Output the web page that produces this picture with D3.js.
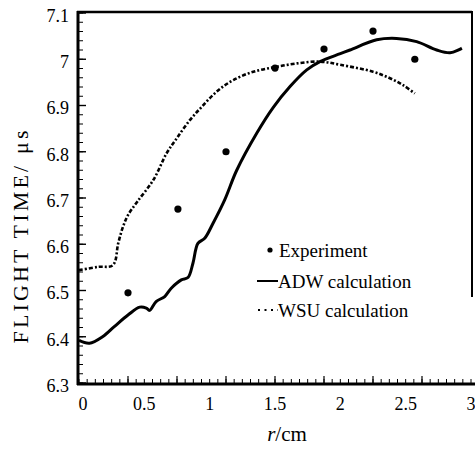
<!DOCTYPE html>
<html><head><meta charset="utf-8">
<script src="https://cdn.jsdelivr.net/npm/d3@7"></script>
<style>body{margin:0;background:#fff}svg{display:block}text{font-family:"Liberation Serif","Times New Roman",serif;fill:#000}</style>
</head><body>
<svg id="c" width="475" height="453"></svg>
<script>
const xTicks = [0, 0.5, 1, 1.5, 2, 2.5, 3];
const yTicks = [6.3, 6.4, 6.5, 6.6, 6.7, 6.8, 6.9, 7, 7.1];
const xMinor = d3.range(0, 3.001, 0.0625);
const xMajorMarks = [0.375, 0.75, 1.125, 1.5, 1.875, 2.25, 2.625];
const yMinor = d3.range(6.3, 7.101, 0.02);

const experiment = [[0.375,6.495],[0.757,6.676],[1.125,6.80],[1.5,6.981],[1.875,7.022],[2.25,7.061],[2.57,7.0]];
const adw = [[0,6.392],[0.08,6.386],[0.18,6.40],[0.27,6.422],[0.375,6.447],[0.465,6.464],[0.515,6.462],[0.54,6.457],[0.59,6.476],[0.656,6.487],[0.706,6.505],[0.783,6.523],[0.834,6.528],[0.872,6.559],[0.91,6.602],[0.962,6.613],[1.025,6.645],[1.115,6.696],[1.207,6.76],[1.36,6.84],[1.487,6.896],[1.615,6.941],[1.743,6.977],[1.844,6.995],[2.0,7.012],[2.074,7.02],[2.278,7.042],[2.43,7.045],[2.584,7.038],[2.737,7.02],[2.84,7.014],[2.93,7.024]];
const wsu = [[0,6.544],[0.145,6.551],[0.26,6.555],[0.30,6.602],[0.337,6.638],[0.375,6.663],[0.446,6.692],[0.569,6.739],[0.671,6.797],[0.748,6.829],[0.85,6.869],[0.939,6.897],[1.054,6.93],[1.181,6.955],[1.334,6.973],[1.5,6.983],[1.666,6.991],[1.844,6.995],[2.0,6.988],[2.25,6.973],[2.38,6.959],[2.48,6.944],[2.57,6.926]];
const legendItems = ["Experiment", "ADW calculation", "WSU calculation"];

const svg = d3.select("#c");
const x = d3.scaleLinear().domain([0, 3]).range([79, 471]);
const y = d3.scaleLinear().domain([6.3, 7.1]).range([383, 13]);

// frame
svg.append("line").attr("x1",77).attr("x2",472).attr("y1",12).attr("y2",12).attr("stroke","#000").attr("stroke-width",2.5);
svg.append("line").attr("x1",472).attr("x2",472).attr("y1",11).attr("y2",297).attr("stroke","#000").attr("stroke-width",2);

// x axis
const gx = svg.append("g").attr("transform","translate(0,384)");
gx.append("line").attr("x1",77).attr("x2",475).attr("stroke","#000").attr("stroke-width",3);
gx.selectAll(".mn").data(xMinor).join("line").attr("x1",d=>x(d)).attr("x2",d=>x(d)).attr("y1",0).attr("y2",-5).attr("stroke","#000").attr("stroke-width",1);
gx.selectAll(".mj").data(xMajorMarks).join("line").attr("x1",d=>x(d)).attr("x2",d=>x(d)).attr("y1",0).attr("y2",-8).attr("stroke","#000").attr("stroke-width",1.2);
gx.selectAll("text").data(xTicks).join("text").attr("x",d=>x(d)+(d===0?4:0)).attr("y",26).attr("text-anchor","middle").attr("font-size",18).text(d=>d3.format("")(d));

// y axis
const gy = svg.append("g").attr("transform","translate(78,0)");
gy.append("line").attr("y1",11).attr("y2",385).attr("stroke","#000").attr("stroke-width",3);
gy.selectAll(".mn").data(yMinor).join("line").attr("y1",d=>y(d)).attr("y2",d=>y(d)).attr("x1",0).attr("x2",5).attr("stroke","#000").attr("stroke-width",1);
gy.selectAll(".mj").data(yTicks).join("line").attr("y1",d=>y(d)).attr("y2",d=>y(d)).attr("x1",0).attr("x2",8).attr("stroke","#000").attr("stroke-width",1.4);
gy.selectAll("text").data(yTicks).join("text").attr("x",-9).attr("y",d=>y(d)+3).attr("dy","0.32em").attr("text-anchor","end").attr("font-size",18).text(d=>d);

// axis titles
svg.append("text").attr("transform","translate(28,237) rotate(-90)").attr("text-anchor","middle").attr("font-size",22).attr("textLength",213).attr("lengthAdjust","spacing").text("FLIGHT TIME/ \u03bcs");
const xt = svg.append("text").attr("x",287).attr("y",441).attr("text-anchor","middle").attr("font-size",21);
xt.append("tspan").attr("font-style","italic").text("r");
xt.append("tspan").text("/cm");

// series
const line = d3.line().x(d=>x(d[0])).y(d=>y(d[1])).curve(d3.curveCatmullRom.alpha(0.5));
svg.append("path").datum(wsu).attr("d",line).attr("fill","none").attr("stroke","#000").attr("stroke-width",2.6).attr("stroke-dasharray","4,2,2,2");
svg.append("path").datum(adw).attr("d",line).attr("fill","none").attr("stroke","#000").attr("stroke-width",3).attr("stroke-linejoin","round");
svg.selectAll(".pt").data(experiment).join("circle").attr("cx",d=>x(d[0])).attr("cy",d=>y(d[1])).attr("r",3.6).attr("fill","#000");

// legend
const lg = svg.append("g");
lg.append("circle").attr("cx",270).attr("cy",250).attr("r",2.6).attr("fill","#000");
lg.append("line").attr("x1",257).attr("x2",278).attr("y1",281).attr("y2",281).attr("stroke","#000").attr("stroke-width",2);
lg.append("line").attr("x1",258).attr("x2",278).attr("y1",310).attr("y2",310).attr("stroke","#000").attr("stroke-width",2.2).attr("stroke-dasharray","2,4.5");
lg.selectAll("text").data(legendItems).join("text").attr("x",(d,i)=>i===0?279:278).attr("y",(d,i)=>[250,281,310][i]).attr("dy","0.35em").attr("font-size",19).text(d=>d);
</script>
</body></html>
